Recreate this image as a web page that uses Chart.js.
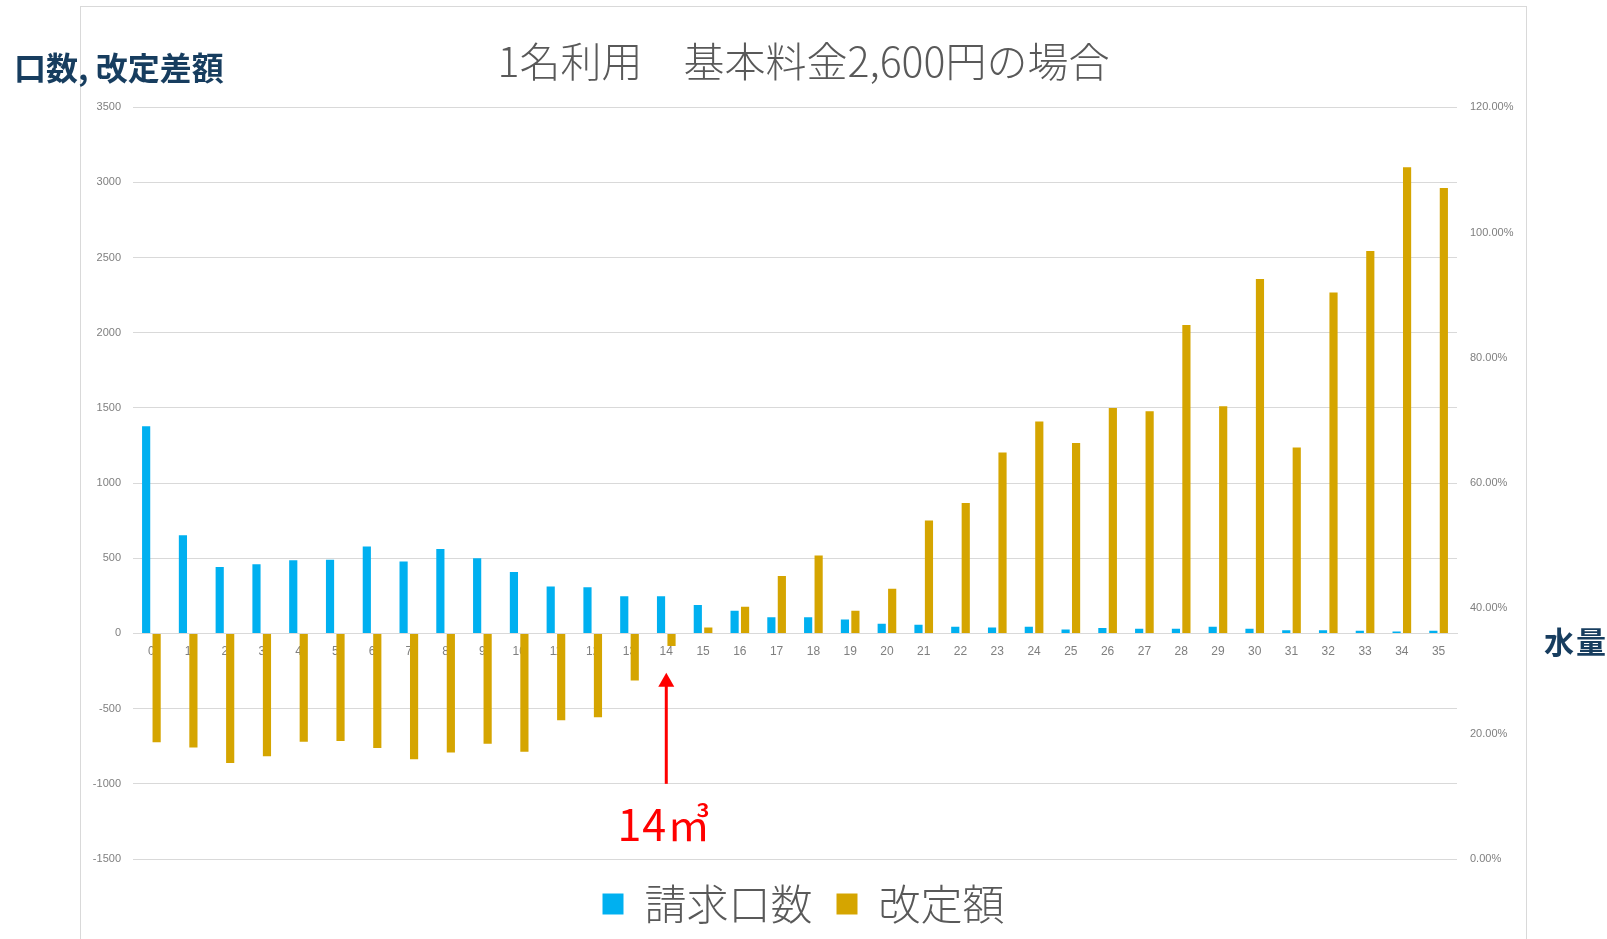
<!DOCTYPE html>
<html lang="ja">
<head>
    <meta charset="UTF-8">
    <title>1名利用 基本料金2,600円の場合</title>
    <script src="https://cdn.jsdelivr.net/npm/chart.js"></script>
    <style>
        html, body { margin: 0; padding: 0; background: #fff; }
        #wrap { width: 1607px; height: 939px; }
    </style>
</head>
<body>
<div id="wrap">
    <canvas id="rate-chart" width="1607" height="939"></canvas>
</div>

<script>
    // 水量 (m3)
    const waterVolume = ['0', '1', '2', '3', '4', '5', '6', '7', '8', '9', '10', '11',
        '12', '13', '14', '15', '16', '17', '18', '19', '20', '21', '22', '23',
        '24', '25', '26', '27', '28', '29', '30', '31', '32', '33', '34', '35'];

    // 請求口数
    const billCount = [1378, 653, 442, 460, 487, 491, 578, 478, 562, 500, 409, 313,
        307, 247, 247, 190, 151, 107, 107, 93, 64, 58, 44, 40,
        44, 27, 36, 31, 31, 44, 31, 22, 22, 18, 13, 18];

    // 改定額
    const revisedAmount = [-724, -758, -862, -816, -720, -716, -762, -836, -791, -733, -787, -578,
        -558, -313, -84, 40, 178, 382, 518, 151, 298, 751, 867, 1204,
        1409, 1267, 1500, 1478, 2051, 1511, 2358, 1237, 2268, 2544, 3100, 2962];

    const leftTickLabels = ['-1500', '-1000', '-500', '0', '500', '1000', '1500', '2000', '2500', '3000', '3500'];
    const rightTickLabels = ['0.00%', '20.00%', '40.00%', '60.00%', '80.00%', '100.00%', '120.00%'];

    const BLUE = '#00b0f0';
    const GOLD = '#d5a500';
    const NAVY = '#173d5f';
    const GREY_TEXT = '#595959';

    Chart.defaults.font.family = '"Liberation Sans", "Noto Sans CJK JP", sans-serif';

    // 枠線・軸見出し・14m3 の矢印
    const extras = {
        id: 'extras',
        beforeDraw(chart) {
            const ctx = chart.ctx;
            ctx.save();
            ctx.fillStyle = '#fff';
            ctx.fillRect(0, 0, chart.width, chart.height);
            ctx.strokeStyle = '#d9d9d9';
            ctx.lineWidth = 1;
            ctx.strokeRect(80.5, 6.5, 1446, 960);
            ctx.restore();
        },
        afterDraw(chart) {
            const ctx = chart.ctx;
            const x = chart.scales.x;
            const y = chart.scales.y;
            ctx.save();
            ctx.fillStyle = NAVY;
            ctx.textBaseline = 'middle';
            ctx.textAlign = 'left';
            ctx.font = 'bold 32px "Noto Sans CJK JP", sans-serif';
            ctx.fillText('口数, 改定差額', 14, 68);
            ctx.font = 'bold 30px "Noto Sans CJK JP", sans-serif';
            ctx.letterSpacing = '2px';
            ctx.fillText('水量', 1544, 642);
            ctx.letterSpacing = '0px';

            // arrow at 14
            const ax = x.getPixelForValue(14);
            const yFrom = y.getPixelForValue(-1000);
            const yTip = y.getPixelForValue(-262);
            ctx.strokeStyle = '#ff0000';
            ctx.fillStyle = '#ff0000';
            ctx.lineWidth = 3;
            ctx.beginPath();
            ctx.moveTo(ax, yFrom);
            ctx.lineTo(ax, yTip + 12);
            ctx.stroke();
            ctx.beginPath();
            ctx.moveTo(ax, yTip);
            ctx.lineTo(ax - 8, yTip + 14);
            ctx.lineTo(ax + 8, yTip + 14);
            ctx.closePath();
            ctx.fill();

            ctx.font = '43px "Noto Sans CJK JP", sans-serif';
            ctx.textAlign = 'center';
            ctx.textBaseline = 'alphabetic';
            ctx.letterSpacing = '1px';
            ctx.fillText('14㎥', ax - 2, y.getPixelForValue(-1380));
            ctx.restore();
        }
    };

    const ctx = document.getElementById('rate-chart').getContext('2d');
    new Chart(ctx, {
        type: 'bar',
        data: {
            labels: waterVolume,
            datasets: [
                {
                    label: '請求口数',
                    data: billCount,
                    backgroundColor: BLUE,
                    yAxisID: 'y',
                    categoryPercentage: 0.57,
                    barPercentage: 0.78
                },
                {
                    label: '改定額',
                    data: revisedAmount,
                    backgroundColor: GOLD,
                    yAxisID: 'y',
                    categoryPercentage: 0.57,
                    barPercentage: 0.78
                }
            ]
        },
        options: {
            responsive: false,
            animation: false,
            layout: { padding: { top: 0, bottom: 4 } },
            plugins: {
                tooltip: { enabled: false },
                title: {
                    display: true,
                    text: '1名利用　基本料金2,600円の場合',
                    color: GREY_TEXT,
                    font: { family: '"Noto Sans CJK JP", sans-serif', size: 41, weight: '300' },
                    padding: { top: 37, bottom: 21 }
                },
                legend: {
                    position: 'bottom',
                    labels: {
                        boxWidth: 21,
                        boxHeight: 21,
                        color: GREY_TEXT,
                        padding: 24,
                        font: { family: '"Noto Sans CJK JP", sans-serif', size: 42, weight: '300' }
                    }
                }
            },
            scales: {
                x: {
                    position: { y: 0 },
                    z: 1,
                    grid: { display: false, drawTicks: false },
                    border: { color: '#d9d9d9' },
                    ticks: {
                        color: '#7f7f7f',
                        font: { size: 12 },
                        padding: 11,
                        autoSkip: false,
                        maxRotation: 0
                    }
                },
                y: {
                    position: 'left',
                    min: -1500,
                    max: 3500,
                    grid: { color: '#d9d9d9', drawTicks: false },
                    border: { display: false },
                    ticks: {
                        stepSize: 500,
                        color: '#7f7f7f',
                        font: { size: 11 },
                        padding: 12,
                        callback: (v, i) => leftTickLabels[i]
                    },
                    afterFit(scale) { scale.width = 133; }
                },
                y1: {
                    position: 'right',
                    min: 0,
                    max: 1.2,
                    grid: { display: false, drawTicks: false },
                    border: { display: false },
                    ticks: {
                        stepSize: 0.2,
                        color: '#7f7f7f',
                        font: { size: 11 },
                        padding: 13,
                        callback: (v, i) => rightTickLabels[i]
                    },
                    afterFit(scale) { scale.width = 150; }
                }
            }
        },
        plugins: [extras]
    });
</script>
</body>
</html>
